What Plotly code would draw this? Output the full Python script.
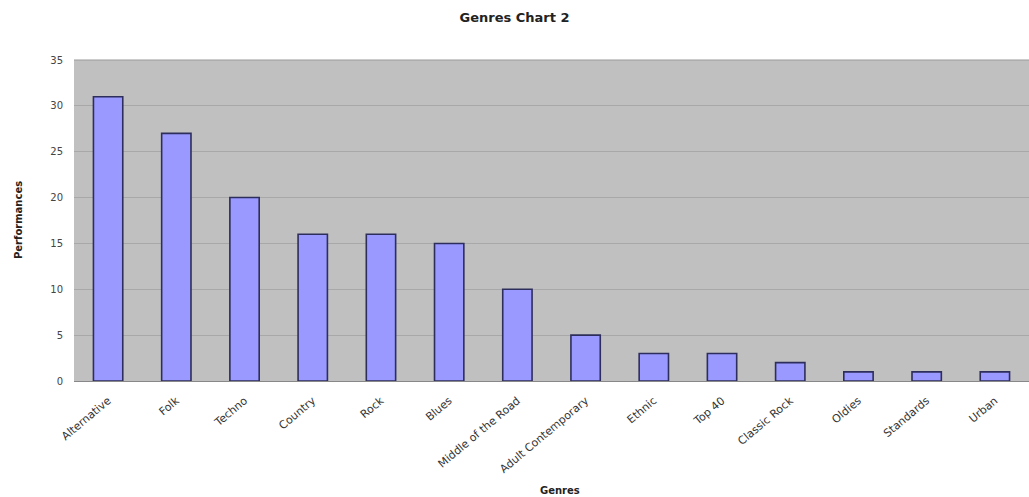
import plotly.graph_objects as go

genres = ["Alternative", "Folk", "Techno", "Country", "Rock", "Blues", "Middle of the Road",
          "Adult Contemporary", "Ethnic", "Top 40", "Classic Rock", "Oldies", "Standards", "Urban"]
performances = [31, 27, 20, 16, 16, 15, 10, 5, 3, 3, 2, 1, 1, 1]
y_ticks = [0, 5, 10, 15, 20, 25, 30, 35]

W, H = 1029, 497
L, R, T, B = 74, 0, 60, 116

fig = go.Figure(go.Bar(
    x=genres, y=performances, width=0.43,
    marker=dict(color="#9999FF", line=dict(color="#2E2E5C", width=1.6)),
))

fig.update_layout(
    width=W, height=H,
    margin=dict(l=L, r=R, t=T, b=B, pad=0),
    paper_bgcolor="white", plot_bgcolor="#C0C0C0",
    font=dict(family="DejaVu Sans", size=10, color="#333333"),
    showlegend=False,
    title=dict(text="<b>Genres Chart 2</b>", x=0.5, xanchor="center", y=1 - 17 / H, yanchor="middle",
               font=dict(family="DejaVu Sans", size=13, color="#222222")),
    xaxis=dict(range=[-0.5, len(genres) - 0.5], tickangle=-40, showgrid=False, ticks="",
               ticklabelstandoff=8,
               showline=True, linecolor="#888888", linewidth=1,
               tickfont=dict(family="DejaVu Sans", size=11, color="#333333")),
    yaxis=dict(range=[0, 35], tickvals=y_ticks, showgrid=True, gridcolor="#A8A8A8", gridwidth=1,
               zeroline=False, ticks="", ticklen=0, showline=False, ticklabelstandoff=10,
               tickfont=dict(family="DejaVu Sans", size=10, color="#444444")),
    annotations=[
        dict(text="<b>Genres</b>", xref="paper", yref="paper", x=(560 - L) / (W - L - R), y=0,
             yshift=-(490 - (H - B)), xanchor="center", yanchor="middle", showarrow=False,
             font=dict(family="DejaVu Sans", size=10, color="#222222")),
        dict(text="<b>Performances</b>", xref="paper", yref="paper", x=0, xshift=-(L - 18),
             y=(H - B - 220) / (H - B - T), xanchor="center", yanchor="middle", textangle=-90,
             showarrow=False, font=dict(family="DejaVu Sans", size=10, color="#222222")),
    ],
    shapes=[dict(type="line", xref="paper", yref="paper", x0=0, x1=1, y0=1, y1=1,
                 line=dict(color="#999999", width=1))],
)

fig.write_html("out.html")
